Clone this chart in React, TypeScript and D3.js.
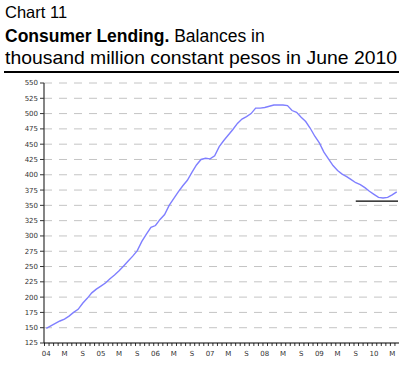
import React from "react";
import * as d3 from "d3";

const xTickLabels = ["04","M","S","05","M","S","06","M","S","07","M","S","08","M","S","09","M","S","10","M"];
const lending = [
  149,153,157,161,164,169,175,180,190,198,207,213,
  218,223,230,236,243,251,259,267,276,291,303,314,
  317,327,335,350,361,372,382,391,404,416,425,427,
  426,431,446,456,465,474,484,491,495,500,509,509,
  510,512,514,514,514,513,505,502,494,487,476,463,
  452,437,426,415,407,401,397,392,387,384,379,373,
  368,363,362,363,367,372
];
const yTicks = [125,150,175,200,225,250,275,300,325,350,375,400,425,450,475,500,525,550];
const refLevel = 357;
const refStart = 68;

export default function App() {
  const W = 402, H = 365;
  const left = 44, right = 399, top = 83, bottom = 343;
  const idx = lending.map((_, i) => i);
  const x = d3.scaleBand<number>().domain(idx).range([left, right]);
  const y = d3.scaleLinear().domain([125, 550]).range([bottom, top]);
  const cx = (i: number) => (x(i) as number) + x.bandwidth() / 2;
  const line = d3.line<number>().x((_, i) => cx(i)).y(d => y(d));
  const tickFont = "DejaVu Sans, Verdana, sans-serif";
  return (
    <svg width={W} height={H} style={{ position: "absolute", left: 0, top: 0, background: "#fff" }}
      fontFamily="Liberation Sans, Arial, sans-serif">
      <text x={5} y={18} fontSize={16.5}>Chart 11</text>
      <text x={5} y={42} fontSize={17.5}>
        <tspan fontWeight="bold">Consumer Lending.</tspan>
        <tspan> Balances in</tspan>
      </text>
      <text x={5} y={64} fontSize={18.5} textLength={392} lengthAdjust="spacingAndGlyphs">thousand million constant pesos in June 2010</text>
      <line x1={4} x2={399} y1={72} y2={72} stroke="#000" strokeWidth={2} />
      {yTicks.filter(t => t > 125).map(t => (
        <line key={"g" + t} x1={left} x2={right} y1={y(t)} y2={y(t)} stroke="#c4c4c4" strokeWidth={1} strokeDasharray="8,7" />
      ))}
      {yTicks.map(t => (
        <g key={"y" + t}>
          <line x1={left - 4} x2={left} y1={y(t)} y2={y(t)} stroke="#333" strokeWidth={1} />
          <text x={left - 6} y={y(t)} dy="0.35em" textAnchor="end" fontSize={7} fontFamily={tickFont} fill="#333">{t}</text>
        </g>
      ))}
      <line x1={left} x2={left} y1={top} y2={bottom} stroke="#333" strokeWidth={1.2} />
      <line x1={left} x2={right} y1={bottom} y2={bottom} stroke="#000" strokeWidth={1.2} />
      {idx.map(i => (
        <line key={"xt" + i} x1={(x(i) as number) + 0.5} x2={(x(i) as number) + 0.5} y1={bottom} y2={bottom + 3} stroke="#000" strokeWidth={0.8} />
      ))}
      {xTickLabels.map((l, k) => (
        <text key={"xl" + k} x={cx(k * 4)} y={356} textAnchor="middle" fontSize={7} fontFamily={tickFont} fill="#333">{l}</text>
      ))}
      <path d={line(lending) || ""} fill="none" stroke="#7f7fff" strokeWidth={1.4} />
      <line x1={cx(refStart)} x2={right - 1} y1={y(refLevel)} y2={y(refLevel)} stroke="#000" strokeWidth={1.3} />
    </svg>
  );
}
